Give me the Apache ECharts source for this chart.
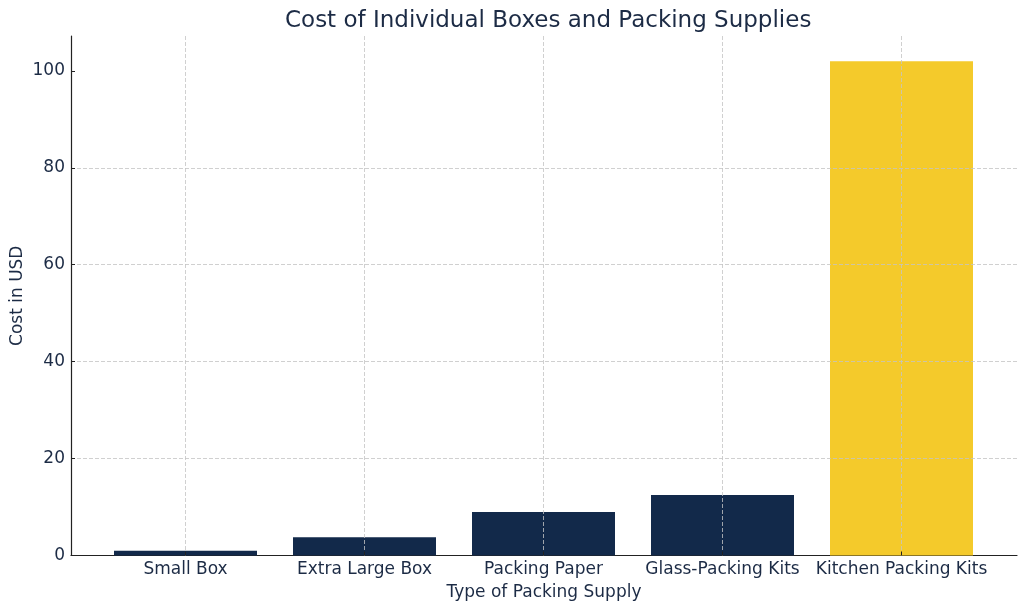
<!DOCTYPE html>
<html>
<head>
<meta charset="utf-8">
<script src="https://cdn.jsdelivr.net/npm/echarts@6/dist/echarts.min.js"></script>
<style>
  html, body { margin: 0; padding: 0; background: #fff; }
  #chart { width: 1024px; height: 611px; }
</style>
</head>
<body>
<div id="chart"></div>
<script>
"use strict";

let categories = ["Small Box", "Extra Large Box", "Packing Paper", "Glass-Packing Kits", "Kitchen Packing Kits"];
let costs = [1.0, 3.75, 9.0, 12.5, 102.0];
let barColors = ["#12294a", "#12294a", "#12294a", "#12294a", "#f4ca2b"];
let yTicks = [0, 20, 40, 60, 80, 100];

const textColor = "#1c2b45";
const font = "DejaVu Sans";
const yMax = 107.2;

let chart = echarts.init(document.getElementById("chart"));

chart.setOption({
    animation: false,
    textStyle: { fontFamily: font, color: textColor },
    title: {
        text: "Cost of Individual Boxes and Packing Supplies",
        left: 280,
        top: 5,
        textStyle: { fontFamily: font, fontSize: 23, fontWeight: "normal", color: textColor }
    },
    grid: [
        { left: 71, right: 7, top: 36, bottom: 55.5, outerBoundsMode: "none" },
        { left: 185.5, right: 122.5, top: 36, bottom: 55.5, outerBoundsMode: "none" }
    ],
    xAxis: [
        {
            type: "value", gridIndex: 0, min: 0, max: 1,
            name: "Type of Packing Supply", nameLocation: "middle", nameGap: 29,
            nameMoveOverlap: false,
            nameTextStyle: { fontFamily: font, fontSize: 17, color: textColor },
            axisLine: { show: true, lineStyle: { color: "#222", width: 1.2 } },
            axisTick: { show: false }, axisLabel: { show: false }, splitLine: { show: false }
        },
        {
            type: "category", gridIndex: 1, data: categories, boundaryGap: false, z: 5,
            axisLine: { show: false },
            axisTick: { show: true, inside: true, length: 4, interval: 0, lineStyle: { color: "#222" } },
            axisLabel: { fontFamily: font, fontSize: 17, color: textColor, margin: 6, interval: 0 },
            splitLine: { show: true, interval: 0, lineStyle: { color: "#c4c4c4", type: [4, 2], width: 0.8 } }
        }
    ],
    yAxis: [
        {
            type: "value", gridIndex: 0, min: 0, max: yMax, interval: 20, z: 5,
            name: "Cost in USD", nameLocation: "middle", nameGap: 45,
            nameMoveOverlap: false,
            nameTextStyle: { fontFamily: font, fontSize: 17, color: textColor },
            axisLine: { show: true, lineStyle: { color: "#222", width: 1.2 } },
            axisTick: { show: true, inside: true, length: 4, lineStyle: { color: "#222" },
                        customValues: yTicks },
            axisLabel: { fontFamily: font, fontSize: 17, color: textColor, margin: 6,
                         customValues: yTicks },
            splitLine: { show: true, showMinLine: false, showMaxLine: false,
                         lineStyle: { color: "#c4c4c4", type: [4, 2], width: 0.8 } }
        },
        {
            type: "value", gridIndex: 1, min: 0, max: yMax, show: false,
            splitLine: { show: false }
        }
    ],
    series: [
        {
            type: "bar",
            xAxisIndex: 1,
            yAxisIndex: 1,
            barWidth: 143,
            clip: false,
            data: costs.map((v, i) => ({ value: v, itemStyle: { color: barColors[i] } }))
        }
    ]
});
</script>
</body>
</html>
